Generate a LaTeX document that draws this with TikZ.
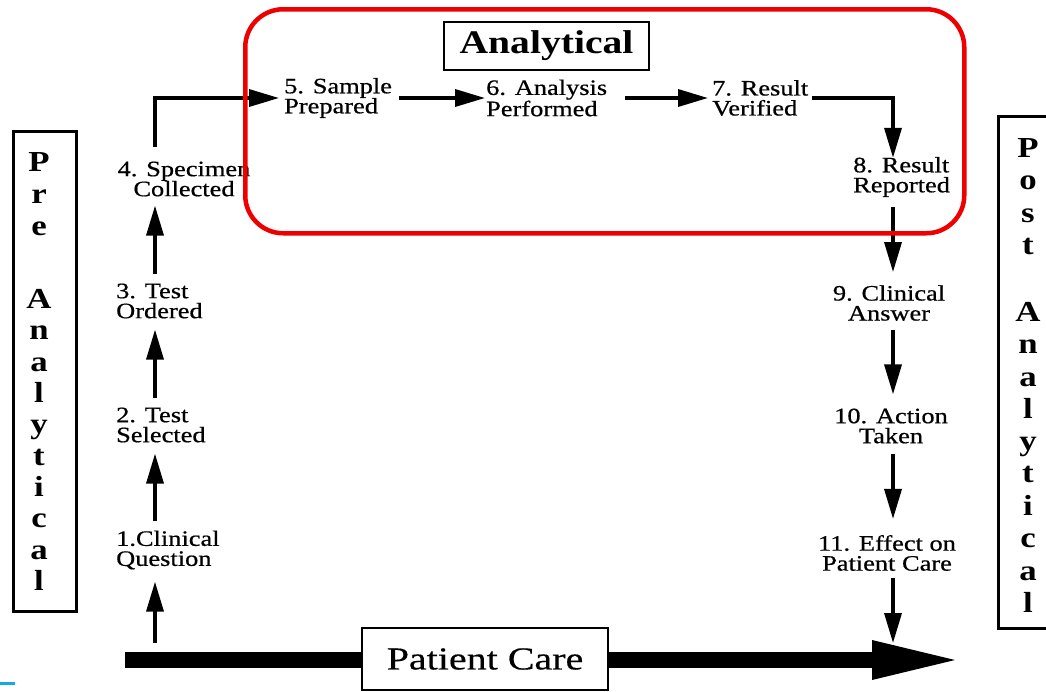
\documentclass[tikz,border=0pt]{standalone}
\usepackage{fontspec}
\setmainfont{Liberation Serif}
\newfontfamily\stepfont[FakeStretch=1.2,FakeBold=0.6]{Liberation Serif}
\newfontfamily\carefont[FakeStretch=1.25,FakeBold=0.4]{Liberation Serif}
\newfontfamily\boldwide[FakeStretch=1.2]{Liberation Serif}
\usetikzlibrary{arrows.meta}
\definecolor{redline}{RGB}{238,0,0}
\definecolor{cyanmark}{RGB}{20,170,230}
\begin{document}
\begin{tikzpicture}[x=1pt,y=-1pt,
  lbl/.style={inner sep=0pt, font=\stepfont\fontsize{22}{20}\selectfont},
  vlet/.style={inner sep=0pt, anchor=base, font=\boldwide\bfseries\fontsize{29}{29}\selectfont},
  arr/.style={line width=3.5pt, -{Triangle[length=30pt,width=17pt]}},
  sidebox/.style={draw, line width=2.5pt, inner sep=0pt, anchor=north west}]
\clip (0,0) rectangle (1046,691);
\fill[white] (0,0) rectangle (1046,691);

% column coordinates
\coordinate (colL) at (155,0);
\coordinate (colR) at (893,0);
\coordinate (bartop) at (0,652);

% Patient care bar
\fill (125,652) rectangle (872,668);
\fill (872,640) -- (955,660) -- (872,680) -- cycle;
\node[draw, fill=white, line width=2.8pt, minimum width=246pt, minimum height=62pt,
      inner sep=0pt, font=\carefont\fontsize{32}{32}\selectfont] (care) at (485,659) {Patient Care};

% side boxes
\node[sidebox, minimum width=63pt, minimum height=480pt] (prebox) at (12,130) {};
\node[sidebox, minimum width=90pt, minimum height=512pt] (postbox) at (997,115) {};
\foreach \ch/\yy [count=\i] in {P/171, r/203, e/235, A/308, n/339, a/371, l/402, y/433, t/465, i/496, c/527, a/559, l/590}
  \node[vlet] (pre\i) at (39,\yy) {\ch};
\foreach \ch/\yy [count=\i] in {P/157, o/189, s/222, t/254, A/321, n/353, a/386, l/418, y/450, t/482, i/515, c/547, a/580, l/612}
  \node[vlet] (post\i) at (1028,\yy) {\ch};

% Analytical title
\node[draw, line width=2.5pt, minimum width=205pt, minimum height=48pt, inner sep=0pt,
      font=\boldwide\bfseries\fontsize{33}{33}\selectfont] (anal) at (546.5,46) {Analytical};

% step labels
\node[lbl, align=left, anchor=west] (n1) at (116,550) {1.Clinical\\Question};
\node[lbl, align=left, anchor=west] (n2) at (116,425) {2. Test\\Selected};
\node[lbl, align=left, anchor=west] (n3) at (116,301) {3. Test\\Ordered};
\node[lbl, align=center] (n4) at (184,179) {4. Specimen\\Collected};
\node[lbl, align=left, anchor=west] (n5) at (284,98) {5. Sample\\Prepared};
\node[lbl, align=left, anchor=west] (n6) at (486,98) {6. Analysis\\Performed};
\node[lbl, align=left, anchor=west] (n7) at (712,98) {7. Result\\Verified};
\node[lbl, align=left, anchor=west] (n8) at (853,177) {8. Result\\Reported};
\node[lbl, align=center] (n9) at (889,303) {9. Clinical\\Answer};
\node[lbl, align=center] (n10) at (891,426) {10. Action\\Taken};
\node[lbl, align=center] (n11) at (887,553) {11. Effect on\\Patient Care};

% connectors, left column
\draw[arr, shorten <=9pt, shorten >=12pt] (colL |- bartop) -- (colL |- n1.south);
\draw[arr, shorten <=9pt, shorten >=11pt] (colL |- n1.north) -- (colL |- n2.south);
\draw[arr, shorten <=9pt, shorten >=11pt] (colL |- n2.north) -- (colL |- n3.south);
\draw[arr, shorten <=9pt, shorten >=9pt] (colL |- n3.north) -- (colL |- n4.south);
\draw[arr, shorten <=14pt, shorten >=5pt] (colL |- n4.north) -- (colL |- n5.west) -- (n5.west);
% top row
\draw[arr, shorten <=7pt, shorten >=1pt] (n5.east) -- (n6.west);
\draw[arr, shorten <=18pt, shorten >=4pt] (n6.east) -- (n7.west);
\draw[arr, shorten <=4pt, shorten >=-1pt] (n7.east) -- (colR |- n7.east) -- (colR |- n8.north);
% right column
\draw[arr, shorten <=10pt, shorten >=13pt] (colR |- n8.south) -- (colR |- n9.north);
\draw[arr, shorten <=9pt, shorten >=14pt] (colR |- n9.south) -- (colR |- n10.north);
\draw[arr, shorten <=10pt, shorten >=16pt] (colR |- n10.south) -- (colR |- n11.north);
\draw[arr, shorten <=7pt, shorten >=9pt] (colR |- n11.south) -- (colR |- bartop);

% red highlight
\node[draw=redline, line width=4.5pt, rounded corners=38pt, minimum width=719pt,
      minimum height=224pt, inner sep=0pt, anchor=north west] (redbox) at (243,7) {};

% small cyan mark
\fill[cyanmark] (0,682) rectangle (15,685);
\end{tikzpicture}
\end{document}
